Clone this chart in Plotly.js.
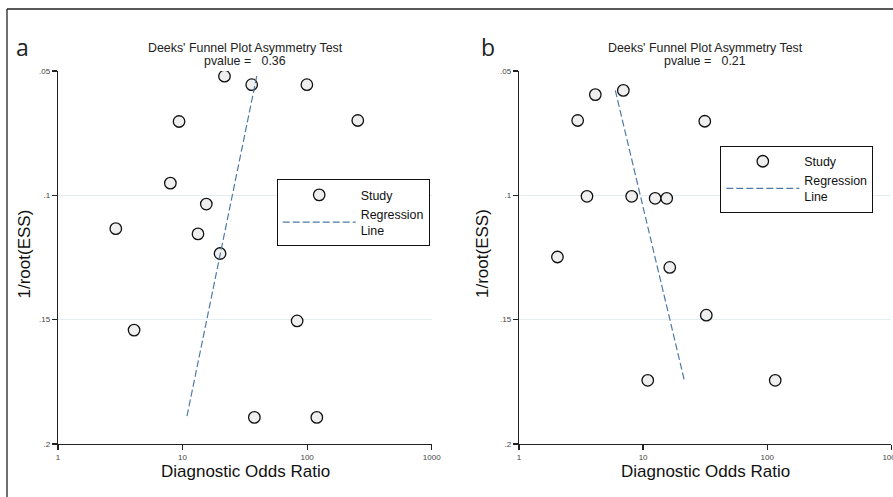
<!DOCTYPE html>
<html>
<head>
<meta charset="utf-8">
<script src="https://cdn.plot.ly/plotly-3.0.1.min.js"></script>
<style>html,body{margin:0;padding:0;background:#fff;}#chart{width:893px;height:497px;}</style>
</head>
<body>
<div id="chart"></div>
<script>
// ---- Data ----
// Panel a
const studyDorA = [21.7, 35.9, 99.5, 9.37, 255, 7.98, 15.5, 2.91, 13.3, 20.0, 4.08, 83.1, 37.7, 119.6];
const studyInvEssA = [0.0521, 0.0555, 0.0555, 0.0703, 0.0699, 0.0951, 0.1035, 0.1134, 0.1155, 0.1234, 0.1542, 0.1505, 0.1893, 0.1893];
const regDorA = [39.4, 10.8];
const regInvEssA = [0.0521, 0.1893];
const pvalueA = "0.36";
// Panel b
const studyDorB = [6.93, 4.12, 2.97, 31.4, 3.53, 8.09, 12.5, 15.5, 2.04, 16.4, 32.3, 10.9, 116];
const studyInvEssB = [0.0578, 0.0595, 0.0699, 0.0702, 0.1004, 0.1004, 0.1012, 0.1012, 0.1248, 0.1290, 0.1482, 0.1744, 0.1744];
const regDorB = [5.97, 21.4];
const regInvEssB = [0.0578, 0.1740];
const pvalueB = "0.21";
// Ticks
const xTickVals = [1, 10, 100, 1000];
const xTickText = ["1", "10", "100", "1000"];
const yTickVals = [0.05, 0.1, 0.15, 0.2];
const yTickText = [".05", ".1", ".15", ".2"];
const panelLabels = ["a", "b"];
const plotTitle = "Deeks' Funnel Plot Asymmetry Test";
const xTitle = "Diagnostic Odds Ratio";
const yTitle = "1/root(ESS)";

// ---- Styling helpers ----
const W = 893, H = 497;
const px = x => x / W;
const py = y => 1 - y / H;
const FONT = "Liberation Sans, Arial, sans-serif";
const markerStyle = {symbol: "circle", size: 11.5, color: "#efefef", line: {color: "#111", width: 1.3}};
const lineStyle = {color: "#4f7aa8", width: 1.2, dash: "7px,3px"};

const traces = [
  {x: studyDorA, y: studyInvEssA, type: "scatter", mode: "markers", name: "Study",
   marker: markerStyle, xaxis: "x", yaxis: "y", legend: "legend"},
  {x: regDorA, y: regInvEssA, type: "scatter", mode: "lines", name: "Regression<br>Line",
   line: lineStyle, xaxis: "x", yaxis: "y", legend: "legend"},
  {x: studyDorB, y: studyInvEssB, type: "scatter", mode: "markers", name: "Study",
   marker: markerStyle, xaxis: "x2", yaxis: "y2", legend: "legend2"},
  {x: regDorB, y: regInvEssB, type: "scatter", mode: "lines", name: "Regression<br>Line",
   line: lineStyle, xaxis: "x2", yaxis: "y2", legend: "legend2"}
];

function xAxis(domain, anchor) {
  return {
    type: "log", domain: domain, anchor: anchor, range: [0, 3], autorange: false,
    tickmode: "array", tickvals: xTickVals, ticktext: xTickText,
    ticks: "outside", ticklen: 5, tickwidth: 1.2, tickcolor: "#222",
    tickfont: {family: FONT, size: 8, color: "#444"},
    showline: true, linecolor: "#222", linewidth: 1.3, mirror: false,
    showgrid: false, zeroline: false, ticklabeloverflow: "allow"
  };
}
function yAxis(domain, anchor) {
  return {
    type: "linear", domain: domain, anchor: anchor, range: [0.2, 0.05], autorange: false,
    tickmode: "array", tickvals: yTickVals, ticktext: yTickText,
    ticks: "outside", ticklen: 5, tickwidth: 1.2, tickcolor: "#222",
    tickfont: {family: FONT, size: 8, color: "#444"},
    showline: true, linecolor: "#222", linewidth: 1.3, mirror: false,
    showgrid: true, gridcolor: "#e4edef", gridwidth: 1.5, zeroline: false
  };
}

const yDom = [py(444), py(71)];
const legendStyle = {
  bgcolor: "#fff", bordercolor: "#111", borderwidth: 1,
  font: {family: FONT, size: 12.4, color: "#111"},
  xanchor: "left", yanchor: "top", itemwidth: 73, tracegroupgap: 0,
  itemclick: false
};

const annotations = [];
function panelAnn(cx, label, pval) {
  annotations.push({xref: "paper", yref: "paper", x: px(cx), y: py(48), text: plotTitle,
    showarrow: false, xanchor: "center", yanchor: "middle", font: {family: FONT, size: 12.4, color: "#222"}});
  annotations.push({xref: "paper", yref: "paper", x: px(cx), y: py(61), text: "pvalue =\u00a0\u00a0\u00a0" + pval,
    showarrow: false, xanchor: "center", yanchor: "middle", font: {family: FONT, size: 12.4, color: "#222"}});
  annotations.push({xref: "paper", yref: "paper", x: px(cx), y: py(471), text: xTitle,
    showarrow: false, xanchor: "center", yanchor: "middle", font: {family: FONT, size: 17, color: "#111"}});
}
panelAnn(245, panelLabels[0], pvalueA);
panelAnn(705, panelLabels[1], pvalueB);
annotations.push({xref: "paper", yref: "paper", x: px(23.5), y: py(254), text: yTitle, textangle: -90,
  showarrow: false, xanchor: "center", yanchor: "middle", font: {family: FONT, size: 17, color: "#111"}});
annotations.push({xref: "paper", yref: "paper", x: px(482), y: py(254), text: yTitle, textangle: -90,
  showarrow: false, xanchor: "center", yanchor: "middle", font: {family: FONT, size: 17, color: "#111"}});
annotations.push({xref: "paper", yref: "paper", x: px(22), y: py(47), text: panelLabels[0],
  showarrow: false, xanchor: "center", yanchor: "middle", font: {family: "Open Sans, sans-serif", size: 23, color: "#222"}});
annotations.push({xref: "paper", yref: "paper", x: px(488), y: py(47), text: panelLabels[1],
  showarrow: false, xanchor: "center", yanchor: "middle", font: {family: "Open Sans, sans-serif", size: 23, color: "#222"}});

const layout = {
  width: W, height: H, autosize: false,
  margin: {l: 0, r: 0, t: 0, b: 0, pad: 0},
  paper_bgcolor: "#fff", plot_bgcolor: "#fff",
  showlegend: true,
  xaxis: xAxis([px(58), px(431.7)], "y"),
  yaxis: yAxis(yDom, "x"),
  xaxis2: xAxis([px(519), px(891.3)], "y2"),
  yaxis2: yAxis(yDom, "x2"),
  legend: Object.assign({x: px(276.7), y: py(179.3)}, legendStyle),
  legend2: Object.assign({x: px(720.3), y: py(145.7)}, legendStyle),
  annotations: annotations,
  shapes: [
    {type: "line", xref: "paper", yref: "paper", x0: px(7), x1: 1, y0: py(9), y1: py(9), line: {color: "#222", width: 1.3}},
    {type: "line", xref: "paper", yref: "paper", x0: px(7), x1: px(7), y0: 0, y1: py(9), line: {color: "#222", width: 1.3}}
  ]
};

Plotly.newPlot("chart", traces, layout, {staticPlot: true, displayModeBar: false});
</script>
</body>
</html>
